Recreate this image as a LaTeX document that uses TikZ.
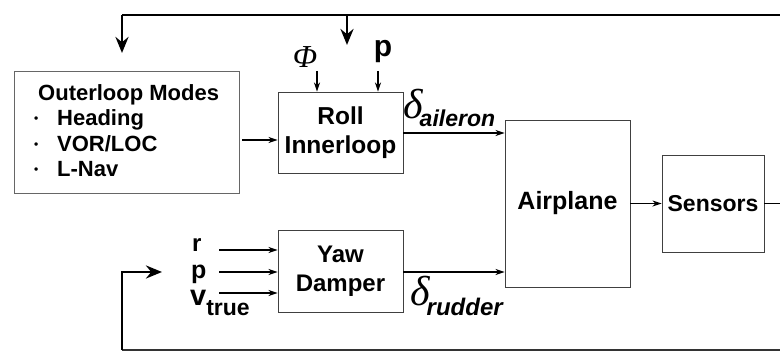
\documentclass[tikz,border=0pt]{standalone}
\usepackage{fontspec}
\setmainfont{Liberation Sans}
\newfontfamily\grkfont{Liberation Serif}
\usetikzlibrary{arrows.meta,calc}
\begin{document}
\begin{tikzpicture}[x=1pt,y=-1pt,
  blk/.style={draw=black!75,line width=0.9pt,inner sep=0pt,align=center,font=\bfseries},
  sig/.style={line width=1.3pt,-{Stealth[length=9pt,width=6pt]}},
  fb/.style={line width=2.8pt},
  fbarrow/.style={line width=2.8pt,-{Stealth[length=16pt,width=13pt]}},
  lab/.style={inner sep=0pt,font=\bfseries}]
\useasboundingbox (0,0) rectangle (780,352);
\fill[white] (0,0) rectangle (780,352);

% blocks
\node[blk,minimum width=225pt,minimum height=122pt,draw=black!60] (outer) at (126.5,132) {};
\node[anchor=north west,inner sep=0pt,align=left,font=\bfseries\fontsize{22}{25.5}\selectfont] (outertxt) at (34,84)
  {\hspace{4pt}Outerloop Modes\\
   \makebox[23pt][l]{\fontsize{12}{12}\selectfont\raisebox{3pt}{•}}Heading\\
   \makebox[23pt][l]{\fontsize{12}{12}\selectfont\raisebox{3pt}{•}}VOR/LOC\\
   \makebox[23pt][l]{\fontsize{12}{12}\selectfont\raisebox{3pt}{•}}L-Nav};
\node[blk,minimum width=125pt,minimum height=81pt,font=\bfseries\fontsize{24.5}{29}\selectfont] (roll) at (340.5,132.5) {Roll\\Innerloop};
\node[blk,minimum width=125pt,minimum height=82pt,font=\bfseries\fontsize{24}{29}\selectfont] (yaw) at (340.5,271) {Yaw\\Damper};
\node[blk,minimum width=125pt,minimum height=167pt,font=\bfseries\fontsize{25}{29}\selectfont] (air) at (567.5,203.5) {Airplane};
\node[blk,minimum width=102pt,minimum height=97pt,font=\bfseries\fontsize{23}{29}\selectfont] (sens) at (713,203.5) {Sensors};

% roll inputs
\node[lab,font=\grkfont\itshape\fontsize{32}{32}\selectfont,anchor=base] (phi) at (305,68) {Φ};
\node[lab,font=\bfseries\fontsize{30}{30}\selectfont,anchor=base] (pin) at (383,57) {p};
\coordinate (phitop) at (317,71);
\coordinate (ptop) at (378,71);
\draw[sig] (phitop) -- (phitop |- roll.north);
\draw[sig] (ptop) -- (ptop |- roll.north);

% outer -> roll
\draw[sig] ($(outer.east)+(3,8)$) -- (roll.west |- 0,140);

% delta labels
\node[anchor=base west,inner sep=0pt] (dail) at (403,119)
  {{\grkfont\itshape\fontsize{42}{42}\selectfont δ}\hspace{-3pt}\raisebox{-8pt}{\fontsize{23}{23}\selectfont\bfseries\itshape aileron}};
\node[anchor=base west,inner sep=0pt] (drud) at (410,306)
  {{\grkfont\itshape\fontsize{42}{42}\selectfont δ}\hspace{-3pt}\raisebox{-10pt}{\fontsize{24}{24}\selectfont\bfseries\itshape rudder}};

% control signals
\draw[sig] (roll.east |- 0,133) -- (air.west |- 0,133);
\draw[sig] (yaw.east |- 0,272) -- (air.west |- 0,272);
\draw[sig] (air.east) -- (sens.west);

% yaw inputs
\node[lab,font=\bfseries\fontsize{24}{24}\selectfont,anchor=base west] (rin) at (192,252) {r};
\node[lab,font=\bfseries\fontsize{25}{25}\selectfont,anchor=base west] (pyin) at (191,279) {p};
\node[lab,anchor=base west] (vin) at (190,306)
  {\fontsize{29}{29}\selectfont\bfseries v\raisebox{-10pt}{\fontsize{23}{23}\selectfont true}};
\coordinate (rs) at (219,250);
\coordinate (ps) at (219,272);
\coordinate (vs) at (219,293);
\draw[sig] (rs) -- (yaw.west |- rs);
\draw[sig] (ps) -- (yaw.west |- ps);
\draw[sig] (vs) -- (yaw.west |- vs);

% feedback loop
\coordinate (tl) at (122,15);
\coordinate (tr) at (782,15);
\coordinate (tm) at (347,15);
\coordinate (outin) at (122,53);
\coordinate (rollfb) at (347,45);
\coordinate (sr) at (782,203.5);
\coordinate (bl) at (122,350);
\coordinate (br) at (782,350);
\coordinate (yk) at (122,272);
\coordinate (yin) at (162,272);
\draw[fb] (tr) -- (tl);
\draw[fbarrow] (tl) -- (outin);
\draw[fbarrow] (tm) -- (rollfb);
\draw[line width=1.3pt] (sens.east) -- (sr);
\draw[fb,black!80] (br) -- (bl);
\draw[fbarrow] (bl) -- (yk) -- (yin);
\end{tikzpicture}
\end{document}
